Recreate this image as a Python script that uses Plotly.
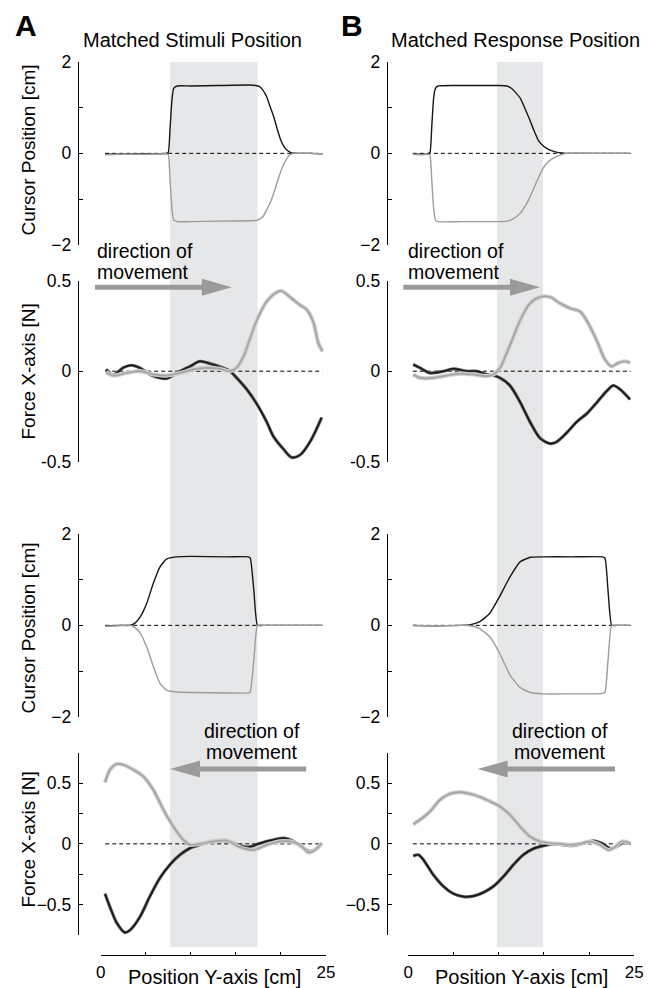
import plotly.graph_objects as go

W, H = 654, 988

# ---------------- data ----------------
# Panel 1 (column A): cursor position, matched stimuli, rightward
p1a_black_x = [0.5, 2.5, 5.0, 7.3, 7.5, 7.7, 7.9, 8.1, 8.5, 10.0, 13.0, 16.5, 17.2, 17.6, 18.0, 18.4, 18.8, 19.2, 19.6, 20.0, 20.4, 20.8, 21.2, 22.0, 23.5, 24.6]
p1a_black_y = [-0.02, -0.02, -0.01, 0.0, 0.02, 0.55, 1.15, 1.42, 1.47, 1.47, 1.48, 1.49, 1.48, 1.46, 1.38, 1.24, 1.02, 0.80, 0.52, 0.28, 0.13, 0.05, 0.01, 0.0, 0.0, -0.01]
p1a_gray_x = [0.5, 2.5, 5.0, 7.3, 7.5, 7.7, 7.9, 8.1, 8.5, 10.0, 13.0, 16.5, 17.4, 18.0, 18.4, 18.8, 19.2, 19.9, 20.4, 21.0, 21.5, 23.0, 24.6]
p1a_gray_y = [-0.03, -0.02, -0.02, -0.01, -0.03, -0.6, -1.2, -1.45, -1.49, -1.49, -1.48, -1.47, -1.46, -1.38, -1.24, -1.08, -0.87, -0.44, -0.2, -0.03, 0.0, 0.0, -0.01]

# Panel 1 (column B): cursor position, matched response, rightward
p1b_black_x = [0.55, 1.5, 2.2, 2.4, 2.6, 2.8, 3.0, 3.3, 6.0, 10.0, 10.9, 11.4, 11.9, 12.4, 12.9, 13.4, 13.9, 14.4, 15.0, 15.7, 16.5, 17.5, 20.0, 24.5]
p1b_black_y = [-0.02, -0.02, -0.01, 0.02, 0.6, 1.2, 1.42, 1.47, 1.48, 1.48, 1.47, 1.42, 1.32, 1.2, 0.98, 0.75, 0.5, 0.28, 0.15, 0.07, 0.02, 0.0, 0.0, 0.0]
p1b_gray_x = [0.55, 1.5, 2.2, 2.4, 2.6, 2.8, 3.0, 3.3, 6.0, 10.0, 10.9, 11.6, 12.36, 13.0, 13.47, 14.2, 14.9, 15.5, 16.0, 16.8, 17.5, 20.0, 24.5]
p1b_gray_y = [-0.02, -0.03, -0.02, -0.05, -0.6, -1.2, -1.45, -1.49, -1.49, -1.49, -1.48, -1.43, -1.31, -1.13, -0.95, -0.62, -0.33, -0.18, -0.11, -0.04, 0.0, 0.0, 0.0]

# Panel 2 (column A): force, rightward
p2a_black_x = [0.59, 1.4, 2.51, 3.44, 4.36, 5.47, 6.58, 7.32, 8.43, 9.91, 11.02, 12.13, 13.24, 14.35, 15.09, 16.2, 17.31, 18.42, 19.16, 20.27, 21.19, 22.12, 23.23, 24.52]
p2a_black_y = [0.01, -0.02, 0.02, 0.033, 0.018, -0.018, -0.037, -0.04, -0.01, 0.027, 0.055, 0.042, 0.024, 0.0, -0.037, -0.10, -0.18, -0.28, -0.36, -0.43, -0.476, -0.463, -0.39, -0.256]
p2a_gray_x = [0.59, 1.4, 2.88, 4.36, 5.84, 7.32, 8.8, 10.28, 11.76, 13.24, 14.35, 15.09, 15.83, 16.57, 17.31, 18.42, 19.53, 20.09, 21.0, 22.12, 22.86, 23.6, 24.15, 24.6]
p2a_gray_y = [-0.005, -0.024, -0.01, 0.0, -0.018, -0.024, -0.01, 0.01, 0.018, 0.013, 0.0, 0.02, 0.08, 0.18, 0.28, 0.385, 0.436, 0.443, 0.41, 0.366, 0.34, 0.27, 0.156, 0.11]

# Panel 2 (column B): force, rightward
p2b_black_x = [0.55, 1.29, 2.40, 3.88, 4.98, 6.46, 7.56, 8.67, 9.41, 10.14, 11.25, 12.36, 13.46, 14.57, 15.68, 16.41, 17.52, 18.63, 19.73, 20.84, 21.94, 22.68, 23.42, 24.53]
p2b_black_y = [0.037, 0.018, -0.01, 0.0, 0.013, 0.0, 0.0, -0.018, -0.024, -0.037, -0.08, -0.17, -0.28, -0.37, -0.40, -0.39, -0.34, -0.28, -0.235, -0.174, -0.11, -0.079, -0.10, -0.156]
p2b_gray_x = [0.55, 1.29, 2.77, 4.24, 5.72, 7.19, 8.67, 9.41, 10.14, 10.88, 11.62, 12.36, 13.46, 14.57, 15.68, 16.78, 17.89, 19.0, 19.73, 20.84, 21.76, 22.5, 23.24, 23.98, 24.53]
p2b_gray_y = [-0.018, -0.037, -0.037, -0.024, -0.013, -0.018, -0.027, -0.018, 0.018, 0.10, 0.19, 0.28, 0.375, 0.41, 0.41, 0.375, 0.348, 0.33, 0.28, 0.17, 0.064, 0.027, 0.046, 0.055, 0.046]

# Panel 3 (column A): cursor position, leftward
p3a_black_x = [0.5, 2.0, 3.25, 3.8, 4.4, 5.1, 5.84, 6.58, 7.3, 8.4, 10.0, 14.0, 16.4, 16.6, 17.0, 17.4, 18.0, 20.0, 22.0, 24.6]
p3a_black_y = [-0.01, 0.0, 0.0, 0.05, 0.19, 0.48, 0.92, 1.28, 1.45, 1.5, 1.51, 1.5, 1.5, 1.47, 0.75, 0.0, 0.0, 0.0, 0.0, 0.0]
p3a_gray_x = [0.5, 2.0, 3.25, 3.8, 4.4, 5.1, 5.84, 6.58, 7.3, 8.4, 10.0, 14.0, 16.4, 16.6, 17.0, 17.4, 18.0, 20.0, 22.0, 24.6]
p3a_gray_y = [-0.02, -0.01, 0.0, -0.05, -0.175, -0.47, -0.9, -1.27, -1.42, -1.46, -1.47, -1.48, -1.48, -1.45, -0.75, 0.0, 0.0, 0.0, 0.0, 0.0]

# Panel 3 (column B): cursor position, leftward
p3b_black_x = [0.55, 3.0, 6.0, 6.8, 7.9, 9.0, 10.1, 11.25, 12.36, 13.5, 14.9, 18.0, 21.5, 21.76, 22.1, 22.5, 23.0, 24.5]
p3b_black_y = [0.0, -0.01, 0.0, 0.01, 0.08, 0.26, 0.63, 1.06, 1.39, 1.49, 1.5, 1.5, 1.5, 1.47, 0.75, 0.0, 0.0, 0.0]
p3b_gray_x = [0.55, 3.0, 6.0, 6.8, 7.9, 9.0, 10.1, 11.25, 12.36, 13.5, 14.9, 18.0, 21.5, 21.76, 22.1, 22.5, 23.0, 24.5]
p3b_gray_y = [-0.01, -0.01, 0.0, -0.01, -0.07, -0.25, -0.61, -1.09, -1.36, -1.47, -1.5, -1.5, -1.49, -1.46, -0.75, 0.0, 0.0, 0.0]

# Panel 4 (column A): force, leftward
p4a_black_x = [0.48, 1.03, 1.78, 2.7, 3.25, 4.36, 5.47, 6.58, 7.7, 8.8, 9.9, 11.0, 12.5, 14.0, 15.5, 16.4, 17.7, 19.2, 20.3, 21.4, 22.5, 23.2, 24.0, 24.5]
p4a_black_y = [-0.41, -0.52, -0.65, -0.73, -0.71, -0.60, -0.43, -0.28, -0.17, -0.09, -0.036, -0.008, 0.02, 0.025, -0.016, -0.027, 0.005, 0.033, 0.047, 0.02, -0.036, -0.063, -0.036, 0.005]
p4a_gray_x = [0.48, 1.03, 1.78, 2.51, 3.62, 4.73, 5.84, 6.96, 8.06, 9.17, 9.91, 11.02, 12.5, 13.98, 15.46, 16.94, 18.42, 19.9, 21.0, 22.12, 23.05, 23.79, 24.52]
p4a_gray_y = [0.505, 0.61, 0.657, 0.651, 0.61, 0.555, 0.445, 0.28, 0.143, 0.033, -0.008, 0.0, 0.02, 0.027, -0.027, -0.05, -0.008, 0.02, 0.02, -0.008, -0.07, -0.05, 0.005]

# Panel 4 (column B): force, leftward
p4b_black_x = [0.55, 1.11, 1.66, 2.77, 3.88, 4.98, 6.09, 7.19, 8.30, 9.41, 10.51, 11.62, 12.72, 13.83, 14.94, 16.05, 17.15, 18.26, 19.37, 20.47, 21.39, 22.31, 23.05, 23.79, 24.53]
p4b_black_y = [-0.10, -0.09, -0.13, -0.255, -0.35, -0.41, -0.434, -0.43, -0.40, -0.35, -0.27, -0.173, -0.09, -0.04, -0.016, 0.0, -0.008, -0.014, 0.005, 0.025, 0.005, -0.036, -0.022, 0.011, 0.0]
p4b_gray_x = [0.55, 1.29, 2.40, 3.51, 4.61, 5.72, 6.82, 7.93, 9.04, 10.14, 11.25, 12.36, 13.46, 14.57, 15.68, 16.78, 17.89, 19.0, 20.10, 21.21, 22.13, 22.86, 23.61, 24.53]
p4b_gray_y = [0.162, 0.198, 0.266, 0.363, 0.412, 0.426, 0.412, 0.385, 0.349, 0.308, 0.239, 0.143, 0.06, 0.019, 0.005, 0.0, -0.008, 0.0, 0.019, -0.008, -0.05, -0.027, 0.019, 0.005]

zero_x = [0.5, 24.6]
shade_a = [7.7, 17.4]
shade_b = [9.8, 14.9]

x_ticks = [0, 5, 10, 15, 20, 25]
x_ticktext = ["0", "", "", "", "", "25"]
cursor_ticks = [-2, -1, 0, 1, 2]
cursor_ticktext = ["\u22122", "", "0", "", "2"]
force_top_ticks = [-0.5, 0, 0.5]
force_top_ticktext = ["-0.5", "0", "0.5"]
force_bot_ticks = [-0.75, -0.5, -0.25, 0, 0.25, 0.5, 0.75]
force_bot_ticktext = ["", "\u22120.5", "", "0", "", "0.5", ""]

titles = ["Matched Stimuli Position", "Matched Response Position"]
ylabels = ["Cursor Position [cm]", "Force X-axis [N]", "Cursor Position [cm]", "Force X-axis [N]"]
xlabel = "Position Y-axis [cm]"

# ---------------- layout geometry (pixels) ----------------
def PX(px):
    return px / W

def PY(py):
    return 1 - py / H

col_x_px = {"A": (100.7, 326.0), "B": (408.3, 634.3)}
col_yaxis_px = {"A": 77.7, "B": 386.7}
panel_y_px = [(61.7, 245.0), (280.7, 461.7), (534.0, 716.7), (752.7, 935.0)]
panel_range = [(-2, 2), (-0.5, 0.5), (-2, 2), (-0.75, 0.75)]
X_RANGE = (0, 25)

FONT = "Liberation Sans, Arial, Helvetica, sans-serif"
BLACK = "#161616"
GRAY = "#9c9c9c"
SHADE = "#e6e7e9"
ARROW = "#9a9a9a"

panels = [
    ("A", 0, p1a_black_x, p1a_black_y, p1a_gray_x, p1a_gray_y, "cursor"),
    ("A", 1, p2a_black_x, p2a_black_y, p2a_gray_x, p2a_gray_y, "force"),
    ("A", 2, p3a_black_x, p3a_black_y, p3a_gray_x, p3a_gray_y, "cursor"),
    ("A", 3, p4a_black_x, p4a_black_y, p4a_gray_x, p4a_gray_y, "force"),
    ("B", 0, p1b_black_x, p1b_black_y, p1b_gray_x, p1b_gray_y, "cursor"),
    ("B", 1, p2b_black_x, p2b_black_y, p2b_gray_x, p2b_gray_y, "force"),
    ("B", 2, p3b_black_x, p3b_black_y, p3b_gray_x, p3b_gray_y, "cursor"),
    ("B", 3, p4b_black_x, p4b_black_y, p4b_gray_x, p4b_gray_y, "force"),
]

fig = go.Figure()
layout = {}

for i, (col, row, bx, by, gx, gy, kind) in enumerate(panels, start=1):
    xr = "x" if i == 1 else f"x{i}"
    yr = "y" if i == 1 else f"y{i}"
    xa = "xaxis" if i == 1 else f"xaxis{i}"
    ya = "yaxis" if i == 1 else f"yaxis{i}"
    x0p, x1p = col_x_px[col]
    ytop, ybot = panel_y_px[row]

    # zero dashed line
    fig.add_trace(go.Scatter(x=zero_x, y=[0, 0], mode="lines", xaxis=xr, yaxis=yr,
                             line=dict(color="black", width=1, dash="4px,3px"), hoverinfo="skip"))
    if kind == "force":
        fig.add_trace(go.Scatter(x=bx, y=by, mode="lines", xaxis=xr, yaxis=yr,
                                 line=dict(color="#5e5e5e", width=3.2, shape="spline", smoothing=0.8)))
        fig.add_trace(go.Scatter(x=bx, y=by, mode="lines", xaxis=xr, yaxis=yr,
                                 line=dict(color=BLACK, width=1.5, shape="spline", smoothing=0.8)))
        fig.add_trace(go.Scatter(x=gx, y=gy, mode="lines", xaxis=xr, yaxis=yr,
                                 line=dict(color="#cfcfcf", width=4.2, shape="spline", smoothing=0.8)))
        fig.add_trace(go.Scatter(x=gx, y=gy, mode="lines", xaxis=xr, yaxis=yr,
                                 line=dict(color="#a4a4a4", width=1.7, shape="spline", smoothing=0.8)))
    else:
        fig.add_trace(go.Scatter(x=bx, y=by, mode="lines", xaxis=xr, yaxis=yr,
                                 line=dict(color=BLACK, width=1.4, shape="spline", smoothing=0.5)))
        fig.add_trace(go.Scatter(x=gx, y=gy, mode="lines", xaxis=xr, yaxis=yr,
                                 line=dict(color=GRAY, width=1.4, shape="spline", smoothing=0.5)))

    xaxis = dict(domain=[PX(x0p), PX(x1p)], range=list(X_RANGE), showgrid=False, zeroline=False,
                 fixedrange=True)
    if row == 3:
        xaxis.update(visible=True, anchor="free", position=PY(955), showline=True, linecolor="black",
                     linewidth=1, ticks="inside", ticklen=3, tickcolor="black", tickwidth=1,
                     tickvals=x_ticks, ticktext=x_ticktext,
                     tickfont=dict(family=FONT, size=17, color="black"), ticklabelstandoff=2)
    else:
        xaxis.update(visible=False, anchor=yr)
    layout[xa] = xaxis

    if kind == "cursor":
        tv, tt = cursor_ticks, cursor_ticktext
    elif row == 1:
        tv, tt = force_top_ticks, force_top_ticktext
    else:
        tv, tt = force_bot_ticks, force_bot_ticktext
    layout[ya] = dict(domain=[PY(ybot), PY(ytop)], range=list(panel_range[row]), anchor="free",
                      position=PX(col_yaxis_px[col]), showline=True, linecolor="black", linewidth=1,
                      ticks="inside", ticklen=4, tickcolor="black", tickwidth=1,
                      tickvals=tv, ticktext=tt, showgrid=False, zeroline=False,
                      tickfont=dict(family=FONT, size=17.5, color="black"), ticklabelstandoff=3,
                      fixedrange=True)

# helpers to convert data to paper coords
def dx(col, x):
    x0p, x1p = col_x_px[col]
    return PX(x0p + (x - X_RANGE[0]) / (X_RANGE[1] - X_RANGE[0]) * (x1p - x0p))

def dy(row, y):
    ytop, ybot = panel_y_px[row]
    lo, hi = panel_range[row]
    return PY(ybot - (y - lo) / (hi - lo) * (ybot - ytop))

shapes = []
for col, (s0, s1) in (("A", shade_a), ("B", shade_b)):
    shapes.append(dict(type="rect", xref="paper", yref="paper", x0=dx(col, s0), x1=dx(col, s1),
                       y0=PY(947), y1=PY(62), fillcolor=SHADE, line=dict(width=0), layer="below"))

# arrows: (column, panel row, tail x, tip x, y) in data units
arrows = [("A", 1, -0.63, 14.55, 0.464), ("B", 1, -0.55, 14.57, 0.464),
          ("A", 3, 22.8, 7.7, 0.615), ("B", 3, 22.86, 7.67, 0.615)]
HEAD_LEN_PX, HEAD_HALF_PX, SHAFT_W = 30, 8.5, 5
for col, row, xt, xh, yv in arrows:
    x_tail, x_tip, y = dx(col, xt), dx(col, xh), dy(row, yv)
    d = 1 if x_tip > x_tail else -1
    x_base = x_tip - d * HEAD_LEN_PX / W
    hh = HEAD_HALF_PX / H
    shapes.append(dict(type="line", xref="paper", yref="paper", x0=x_tail, x1=x_base + d * 1 / W,
                       y0=y, y1=y, line=dict(color=ARROW, width=SHAFT_W)))
    shapes.append(dict(type="path", xref="paper", yref="paper",
                       path=f"M {x_base},{y + hh} L {x_tip},{y} L {x_base},{y - hh} Z",
                       fillcolor=ARROW, line=dict(width=0)))

annotations = []
def txt(text, x, y, size=19, xanchor="center", yanchor="middle", angle=0, bold=False):
    annotations.append(dict(text=f"<b>{text}</b>" if bold else text, x=x, y=y, xref="paper", yref="paper",
                            xanchor=xanchor, yanchor=yanchor, textangle=angle, showarrow=False,
                            font=dict(family=FONT, size=size, color="black")))

txt("A", PX(13), PY(25), size=30, xanchor="left", bold=True)
txt("B", PX(339), PY(25), size=30, xanchor="left", bold=True)
txt(titles[0], PX(192.8), PY(40), size=20)
txt(titles[1], PX(515), PY(40), size=20)
for lab, yc in zip(ylabels, [150, 372, 628, 840]):
    txt(lab, PX(27.5), PY(yc), angle=-90)
txt(xlabel, PX(214), PY(977), size=20)
txt(xlabel, PX(521), PY(977), size=20)
# direction of movement labels
txt("direction of", PX(95), PY(251), size=19.5, xanchor="left")
txt("movement", PX(95), PY(272), size=19.5, xanchor="left")
txt("direction of", PX(406), PY(251), size=19.5, xanchor="left")
txt("movement", PX(406), PY(272), size=19.5, xanchor="left")
txt("direction of", PX(302), PY(731), size=19.5, xanchor="right")
txt("movement", PX(300), PY(752), size=19.5, xanchor="right")
txt("direction of", PX(610), PY(731), size=19.5, xanchor="right")
txt("movement", PX(608), PY(752), size=19.5, xanchor="right")

fig.update_layout(width=W, height=H, margin=dict(l=0, r=0, t=0, b=0), showlegend=False,
                  paper_bgcolor="white", plot_bgcolor="rgba(0,0,0,0)", template="none",
                  shapes=shapes, annotations=annotations, hovermode=False, **layout)

fig.write_html("out.html")
